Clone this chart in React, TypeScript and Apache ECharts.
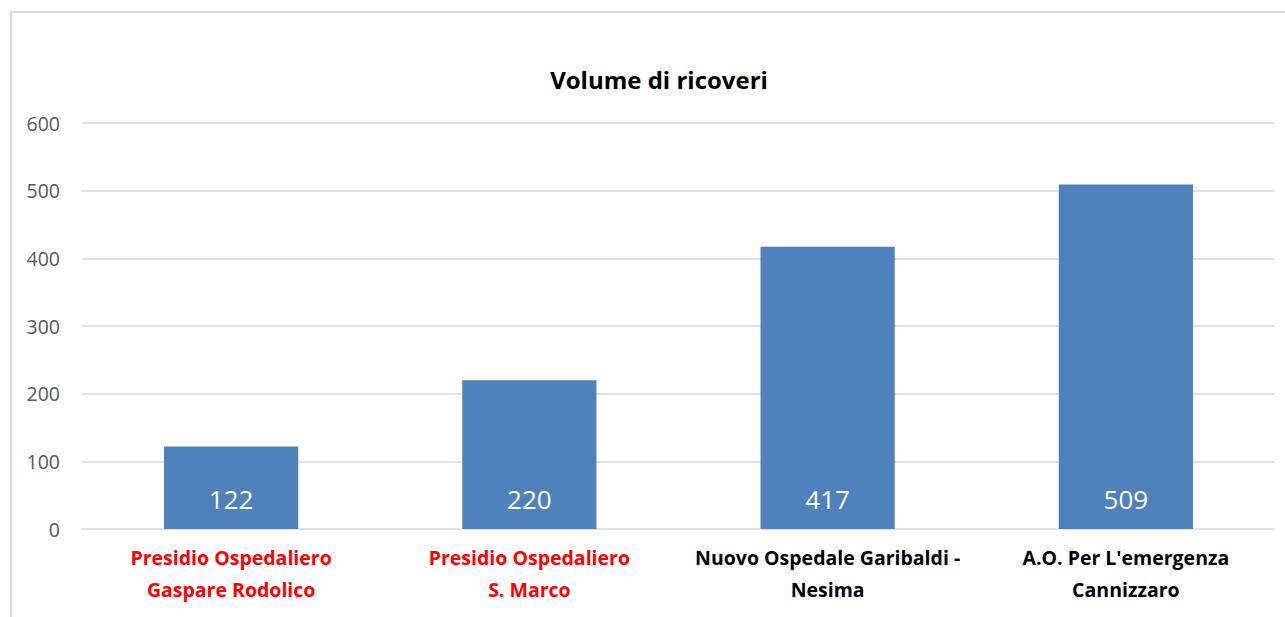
import React, { useEffect, useRef } from "react";
import * as echarts from "echarts";

const categories = [
  "Presidio Ospedaliero\nGaspare Rodolico",
  "Presidio Ospedaliero\nS. Marco",
  "Nuovo Ospedale Garibaldi -\nNesima",
  "A.O. Per L'emergenza\nCannizzaro",
];
const labelColors = ["#ff0000", "#ff0000", "#000000", "#000000"];
const values = [122, 220, 417, 509];
const yTicks = [0, 100, 200, 300, 400, 500, 600];

export default function App() {
  const ref = useRef<HTMLDivElement>(null);
  useEffect(() => {
    if (!ref.current) return;
    const chart = echarts.init(ref.current, null, { renderer: "svg" });
    chart.setOption({
      animation: false,
      graphic: [
        {
          type: "rect",
          shape: { x: 11, y: 12, width: 1400, height: 800 },
          style: { fill: "none", stroke: "#d9d9d9", lineWidth: 2 },
          silent: true,
        },
      ],
      title: {
        text: "Volume di ricoveri",
        left: 654,
        top: 62,
        textAlign: "center",
        textStyle: {
          fontFamily: "Open Sans",
          fontWeight: "bold",
          fontSize: 24,
          color: "#000",
        },
      },
      grid: { left: 82, right: 10, top: 123, bottom: 88, containLabel: false },
      xAxis: {
        type: "category",
        data: categories,
        axisLine: { show: false },
        axisTick: { show: false },
        axisLabel: {
          interval: 0,
          margin: 12,
          fontFamily: "Open Sans",
          fontWeight: "bold",
          fontSize: 19.5,
          lineHeight: 32,
          color: (_v: any, i: number) => labelColors[i],
        },
      },
      yAxis: {
        type: "value",
        min: yTicks[0],
        max: yTicks[yTicks.length - 1],
        interval: 100,
        axisLine: { show: false },
        axisTick: { show: false },
        axisLabel: {
          margin: 22,
          fontFamily: "Open Sans",
          fontSize: 19.5,
          color: "#595959",
        },
        splitLine: { lineStyle: { color: "#d9d9d9", width: 1.5 } },
      },
      series: [
        {
          type: "bar",
          data: values,
          barWidth: "45%",
          itemStyle: { color: "#4f81bd" },
          label: {
            show: true,
            position: "insideBottom",
            distance: 17,
            color: "#ffffff",
            fontFamily: "Open Sans",
            fontSize: 26,
          },
        },
      ],
    });
    return () => chart.dispose();
  }, []);
  return (
    <div
      ref={ref}
      style={{ position: "fixed", left: 0, top: 0, width: 1285, height: 617, background: "#fff" }}
    />
  );
}
